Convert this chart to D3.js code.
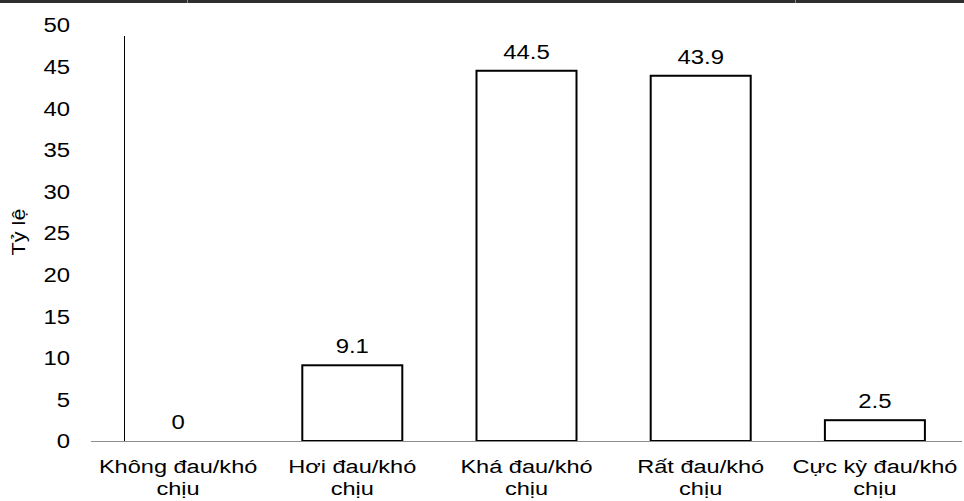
<!DOCTYPE html>
<html>
<head>
<meta charset="utf-8">
<script src="https://cdn.jsdelivr.net/npm/d3@7"></script>
<style>
  html, body { margin: 0; padding: 0; background: #fff; }
  svg { display: block; font-family: "Liberation Sans", Arial, sans-serif; }
</style>
</head>
<body>
<svg id="chart" width="964" height="501"></svg>
<script>
// Mức độ đau/khó chịu (tỷ lệ %)
const categories = [
  ["Không đau/khó", "chịu"],
  ["Hơi đau/khó", "chịu"],
  ["Khá đau/khó", "chịu"],
  ["Rất đau/khó", "chịu"],
  ["Cực kỳ đau/khó", "chịu"]
];
const values = [0, 9.1, 44.5, 43.9, 2.5];
const yTicks = [0, 5, 10, 15, 20, 25, 30, 35, 40, 45, 50];
const yTitle = "Tỷ lệ";

const svg = d3.select("#chart");
const W = 964;
const FS = 21;      // font size
const SX = 1.14;    // horizontal text stretch

// top border strip
svg.append("rect").attr("x", 0).attr("y", 0).attr("width", W).attr("height", 3).attr("fill", "#2e2e2e");
[187, 795].forEach(x => svg.append("rect").attr("x", x).attr("y", 0).attr("width", 1).attr("height", 3).attr("fill", "#8a8a8a"));

const x = d3.scaleBand()
  .domain(d3.range(categories.length))
  .range([91, 962])
  .padding(0);
const barW = 100;

const y = d3.scaleLinear().domain([0, 50]).range([441, 25]);

// text placed at (px, py) and stretched horizontally
function stretched(sel, px, py, sx = SX) {
  return sel.attr("transform", (d, i) => `translate(${px(d, i)},${py(d, i)}) scale(${sx},1)`);
}

// y tick labels (no tick marks)
stretched(svg.append("g").selectAll("text").data(yTicks).join("text"),
    () => 70, d => y(d))
  .attr("dy", "0.35em")
  .attr("text-anchor", "end")
  .attr("font-size", FS)
  .attr("fill", "#000")
  .text(d => d);

// y axis line
svg.append("line")
  .attr("x1", 124.5).attr("x2", 124.5)
  .attr("y1", 36).attr("y2", y(0))
  .attr("stroke", "#000").attr("stroke-width", 1);

// y axis title
svg.append("text")
  .attr("transform", `translate(25,232) rotate(-90) scale(${SX},1)`)
  .attr("text-anchor", "middle")
  .attr("font-size", 19)
  .attr("fill", "#000")
  .text(yTitle);

// bars
const cx = i => x(i) + x.bandwidth() / 2;
svg.append("g").selectAll("rect").data(values).join("rect")
  .attr("x", (d, i) => cx(i) - barW / 2)
  .attr("y", d => y(d))
  .attr("width", barW)
  .attr("height", d => y(0) - y(d))
  .attr("fill", "#fff")
  .attr("stroke", "#000")
  .attr("stroke-width", 2);

// baseline
svg.append("line")
  .attr("x1", 91).attr("x2", 962)
  .attr("y1", y(0) + 0.5).attr("y2", y(0) + 0.5)
  .attr("stroke", "#8c8c8c").attr("stroke-width", 1.2);

// value labels
stretched(svg.append("g").selectAll("text").data(values).join("text"),
    (d, i) => cx(i), d => y(d) - 12)
  .attr("text-anchor", "middle")
  .attr("font-size", FS)
  .attr("fill", "#000")
  .text(d => d);

// category labels, two lines each
const cat = stretched(svg.append("g").selectAll("text").data(categories).join("text"),
    (d, i) => cx(i), () => 0, 1.24)
  .attr("text-anchor", "middle")
  .attr("font-size", 19)
  .attr("fill", "#000");
cat.each(function(lines) {
  d3.select(this).selectAll("tspan").data(lines).join("tspan")
    .attr("x", 0)
    .attr("y", (l, j) => 473 + j * 22)
    .text(l => l);
});
</script>
</body>
</html>
